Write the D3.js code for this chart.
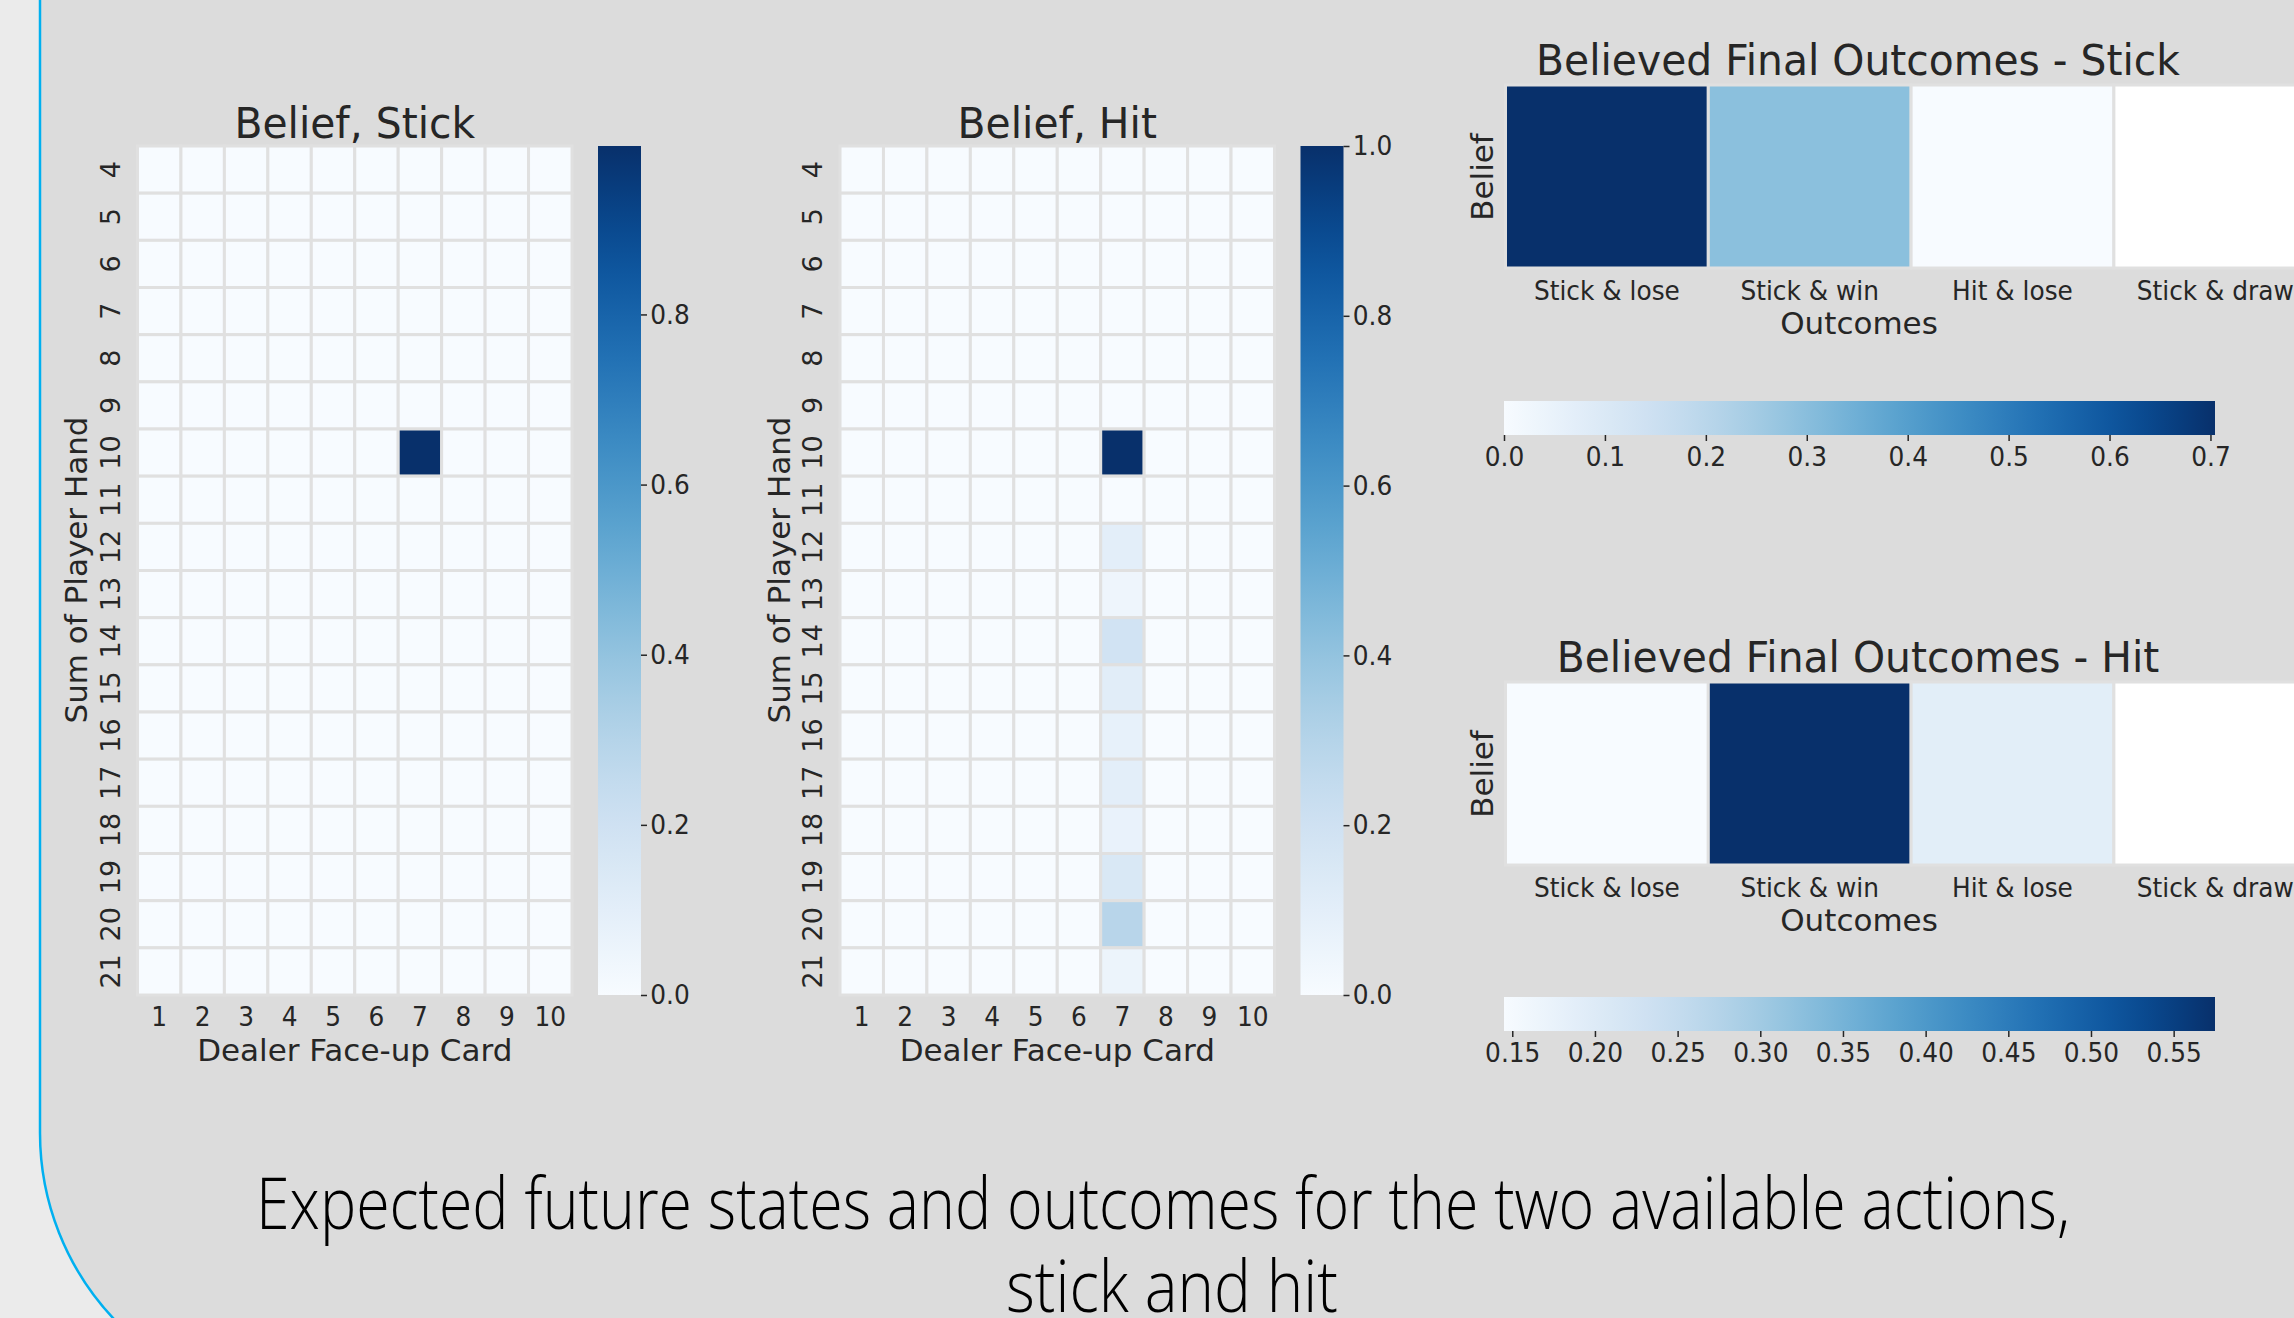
<!DOCTYPE html>
<html lang="en">
<head>
<meta charset="UTF-8">
<title>Belief heatmaps: stick and hit</title>
<script src="https://d3js.org/d3.v7.min.js"></script>
<style>
    body {
        margin: 0;
        background: #ebebeb;
        font-family: "DejaVu Sans", sans-serif;
    }
    svg { display: block; }
    .axis text {
        fill: #262626;
        font-size: 27px;
        font-family: "DejaVu Sans", sans-serif;
    }
    .axis path { display: none; }
    .axis line { stroke: #262626; stroke-width: 1.5; }
</style>
</head>
<body>
<div id="chart"></div>
<script>
    // rows = sum of player hand, columns = dealer face-up card
    const dealerCards = [1, 2, 3, 4, 5, 6, 7, 8, 9, 10];
    const playerSums = [4, 5, 6, 7, 8, 9, 10, 11, 12, 13, 14, 15, 16, 17, 18, 19, 20, 21];

    const beliefStick = [
        [0, 0, 0, 0, 0, 0, 0, 0, 0, 0],
        [0, 0, 0, 0, 0, 0, 0, 0, 0, 0],
        [0, 0, 0, 0, 0, 0, 0, 0, 0, 0],
        [0, 0, 0, 0, 0, 0, 0, 0, 0, 0],
        [0, 0, 0, 0, 0, 0, 0, 0, 0, 0],
        [0, 0, 0, 0, 0, 0, 0, 0, 0, 0],
        [0, 0, 0, 0, 0, 0, 0.998, 0, 0, 0],
        [0, 0, 0, 0, 0, 0, 0, 0, 0, 0],
        [0, 0, 0, 0, 0, 0, 0, 0, 0, 0],
        [0, 0, 0, 0, 0, 0, 0, 0, 0, 0],
        [0, 0, 0, 0, 0, 0, 0, 0, 0, 0],
        [0, 0, 0, 0, 0, 0, 0, 0, 0, 0],
        [0, 0, 0, 0, 0, 0, 0, 0, 0, 0],
        [0, 0, 0, 0, 0, 0, 0, 0, 0, 0],
        [0, 0, 0, 0, 0, 0, 0, 0, 0, 0],
        [0, 0, 0, 0, 0, 0, 0, 0, 0, 0],
        [0, 0, 0, 0, 0, 0, 0, 0, 0, 0],
        [0, 0, 0, 0, 0, 0, 0, 0, 0, 0]
    ];

    const beliefHit = [
        [0, 0, 0, 0, 0, 0, 0, 0, 0, 0],
        [0, 0, 0, 0, 0, 0, 0, 0, 0, 0],
        [0, 0, 0, 0, 0, 0, 0, 0, 0, 0],
        [0, 0, 0, 0, 0, 0, 0, 0, 0, 0],
        [0, 0, 0, 0, 0, 0, 0, 0, 0, 0],
        [0, 0, 0, 0, 0, 0, 0, 0, 0, 0],
        [0, 0, 0, 0, 0, 0, 1.0, 0, 0, 0],
        [0, 0, 0, 0, 0, 0, 0, 0, 0, 0],
        [0, 0, 0, 0, 0, 0, 0.10, 0, 0, 0],
        [0, 0, 0, 0, 0, 0, 0.045, 0, 0, 0],
        [0, 0, 0, 0, 0, 0, 0.19, 0, 0, 0],
        [0, 0, 0, 0, 0, 0, 0.11, 0, 0, 0],
        [0, 0, 0, 0, 0, 0, 0.08, 0, 0, 0],
        [0, 0, 0, 0, 0, 0, 0.10, 0, 0, 0],
        [0, 0, 0, 0, 0, 0, 0.07, 0, 0, 0],
        [0, 0, 0, 0, 0, 0, 0.15, 0, 0, 0],
        [0, 0, 0, 0, 0, 0, 0.29, 0, 0, 0],
        [0, 0, 0, 0, 0, 0, 0.055, 0, 0, 0]
    ];

    const outcomes = ["Stick & lose", "Stick & win", "Hit & lose", "Stick & draw"];
    const stickOutcomeBelief = [0.7045, 0.2955, 0.0, null];
    const hitOutcomeBelief = [0.145, 0.575, 0.19, null];

    const stickBarTicks = [0, 0.2, 0.4, 0.6, 0.8];
    const hitBarTicks = [0, 0.2, 0.4, 0.6, 0.8, 1.0];
    const stickOutcomeTicks = [0, 0.1, 0.2, 0.3, 0.4, 0.5, 0.6, 0.7];
    const hitOutcomeTicks = [0.15, 0.20, 0.25, 0.30, 0.35, 0.40, 0.45, 0.50, 0.55];

    const captionLines = [
        "Expected future states and outcomes for the two available actions,",
        "stick and hit"
    ];

    const W = 2294, H = 1318;
    const tickSX = 0.92;     // tick labels look a bit narrower than plain DejaVu
    const titleSX = 0.95;
    const ink = "#262626";
    const gridLine = "#e0e0e0";

    const svg = d3.select("#chart").append("svg")
        .attr("width", W)
        .attr("height", H);

    // slide panel with rounded corner and blue outline
    svg.append("path")
        .attr("d", "M40,-5 V1133 A271,271 0 0 0 311,1404 H2400 V-5 Z")
        .attr("fill", "#dcdcdc")
        .attr("stroke", "#00b0f0")
        .attr("stroke-width", 2.5);

    const defs = svg.append("defs");

    function label(text, x, y, size, sx, rotated) {
        svg.append("text")
            .attr("transform", `translate(${x},${y}) scale(${sx},1)` + (rotated ? " rotate(-90)" : ""))
            .attr("dy", rotated ? "0.35em" : null)
            .attr("text-anchor", "middle")
            .attr("fill", ink)
            .style("font-size", size + "px")
            .text(text);
    }

    function gradient(id, vertical) {
        const g = defs.append("linearGradient")
            .attr("id", id)
            .attr("x1", 0).attr("y1", vertical ? 1 : 0)
            .attr("x2", vertical ? 0 : 1).attr("y2", 0);
        d3.range(0, 1.0001, 0.05).forEach(t => {
            g.append("stop")
                .attr("offset", t)
                .attr("stop-color", d3.interpolateBlues(t));
        });
    }

    // 18x10 state heatmap with vertical colour bar
    function stateHeatmap(o) {
        const x = d3.scaleBand().domain(dealerCards).range([o.left, o.right]);
        const y = d3.scaleBand().domain(playerSums).range([146, 995]);
        const cells = [];
        o.data.forEach((row, i) => row.forEach((v, j) => cells.push({sum: playerSums[i], card: dealerCards[j], v})));
        const extent = d3.extent(cells, d => d.v);
        const color = d3.scaleSequential(d3.interpolateBlues).domain(extent);

        svg.append("g").selectAll("rect")
            .data(cells)
            .enter()
            .append("rect")
            .attr("x", d => x(d.card))
            .attr("y", d => y(d.sum))
            .attr("width", x.bandwidth())
            .attr("height", y.bandwidth())
            .attr("fill", d => color(d.v))
            .attr("stroke", gridLine)
            .attr("stroke-width", 3);

        svg.append("g")
            .attr("class", "axis")
            .attr("transform", `translate(0,995)`)
            .call(d3.axisBottom(x).tickSize(0).tickPadding(12))
            .selectAll("text").attr("transform", `scale(${tickSX},1)`);

        svg.append("g")
            .attr("class", "axis")
            .attr("transform", `translate(${o.left},0)`)
            .call(d3.axisLeft(y).tickSize(0))
            .selectAll("text")
            .attr("x", null)
            .attr("dy", "0.35em")
            .attr("text-anchor", "middle")
            .attr("transform", `translate(-27,0) rotate(-90)`);

        label(o.title, (o.left + o.right) / 2, 138, 43, titleSX, false);
        label("Dealer Face-up Card", (o.left + o.right) / 2, 1061, 31, 1, false);
        label("Sum of Player Hand", o.left - 61, 570, 31, 1, true);

        // colour bar
        gradient(o.id, true);
        svg.append("rect")
            .attr("x", o.cbLeft)
            .attr("y", 146)
            .attr("width", 43)
            .attr("height", 849)
            .attr("fill", `url(#${o.id})`);

        const cb = d3.scaleLinear().domain(extent).range([995, 146]);
        svg.append("g")
            .attr("class", "axis")
            .attr("transform", `translate(${o.cbLeft + 43},0)`)
            .call(d3.axisRight(cb).tickValues(o.ticks).tickFormat(d3.format(".1f")).tickSize(6).tickPadding(4))
            .selectAll("text").attr("transform", `scale(${tickSX},1)`);
    }

    // one-row outcome heatmap with horizontal colour bar
    function outcomeHeatmap(o) {
        const x = d3.scaleBand().domain(outcomes).range([1505.5, 1505.5 + 4 * 202.8]);
        const y = d3.scaleBand().domain(["Belief"]).range([o.top, o.top + 183]);
        const cells = outcomes.map((k, i) => ({k, v: o.data[i]}));
        const extent = d3.extent(cells, d => d.v);
        const color = d3.scaleSequential(d3.interpolateBlues).domain(extent);

        svg.append("g").selectAll("rect")
            .data(cells)
            .enter()
            .append("rect")
            .attr("x", d => x(d.k))
            .attr("y", y("Belief"))
            .attr("width", x.bandwidth())
            .attr("height", y.bandwidth())
            .attr("fill", d => d.v == null ? "#ffffff" : color(d.v))
            .attr("stroke", gridLine)
            .attr("stroke-width", 3);

        svg.append("g")
            .attr("class", "axis")
            .attr("transform", `translate(0,${o.top + 183})`)
            .call(d3.axisBottom(x).tickSize(0).tickPadding(13))
            .selectAll("text").attr("transform", `scale(${tickSX},1)`);

        label(o.title, 1858, o.top - 10, 43, titleSX, false);
        label("Outcomes", 1859, o.top + 249, 31, 1, false);
        label("Belief", 1482, o.top + 92, 31, 1, true);

        // colour bar
        gradient(o.id, false);
        svg.append("rect")
            .attr("x", 1504)
            .attr("y", o.cbTop)
            .attr("width", 711)
            .attr("height", 34)
            .attr("fill", `url(#${o.id})`);

        const cb = d3.scaleLinear().domain(extent).range([1504, 2215]);
        svg.append("g")
            .attr("class", "axis")
            .attr("transform", `translate(0,${o.cbTop + 34})`)
            .call(d3.axisBottom(cb).tickValues(o.ticks).tickFormat(d3.format(o.fmt)).tickSize(6).tickPadding(6))
            .selectAll("text").attr("transform", `scale(${tickSX},1)`);
    }

    stateHeatmap({data: beliefStick, left: 137.5, right: 572, cbLeft: 598, title: "Belief, Stick", ticks: stickBarTicks, id: "cbStick"});
    stateHeatmap({data: beliefHit, left: 840, right: 1274.5, cbLeft: 1300.5, title: "Belief, Hit", ticks: hitBarTicks, id: "cbHit"});

    outcomeHeatmap({data: stickOutcomeBelief, top: 85, cbTop: 401, title: "Believed Final Outcomes - Stick", ticks: stickOutcomeTicks, fmt: ".1f", id: "cbOutStick"});
    outcomeHeatmap({data: hitOutcomeBelief, top: 682, cbTop: 997, title: "Believed Final Outcomes - Hit", ticks: hitOutcomeTicks, fmt: ".2f", id: "cbOutHit"});

    // slide caption
    const caption = svg.append("g")
        .style("font-family", "'Open Sans', sans-serif")
        .style("font-weight", 300)
        .style("font-size", "72px")
        .attr("fill", "#000");
    caption.append("text")
        .attr("x", 256).attr("y", 1229)
        .attr("textLength", 1814)
        .attr("lengthAdjust", "spacingAndGlyphs")
        .text(captionLines[0]);
    caption.append("text")
        .attr("x", 1006).attr("y", 1312)
        .attr("textLength", 332)
        .attr("lengthAdjust", "spacingAndGlyphs")
        .text(captionLines[1]);
</script>
</body>
</html>
